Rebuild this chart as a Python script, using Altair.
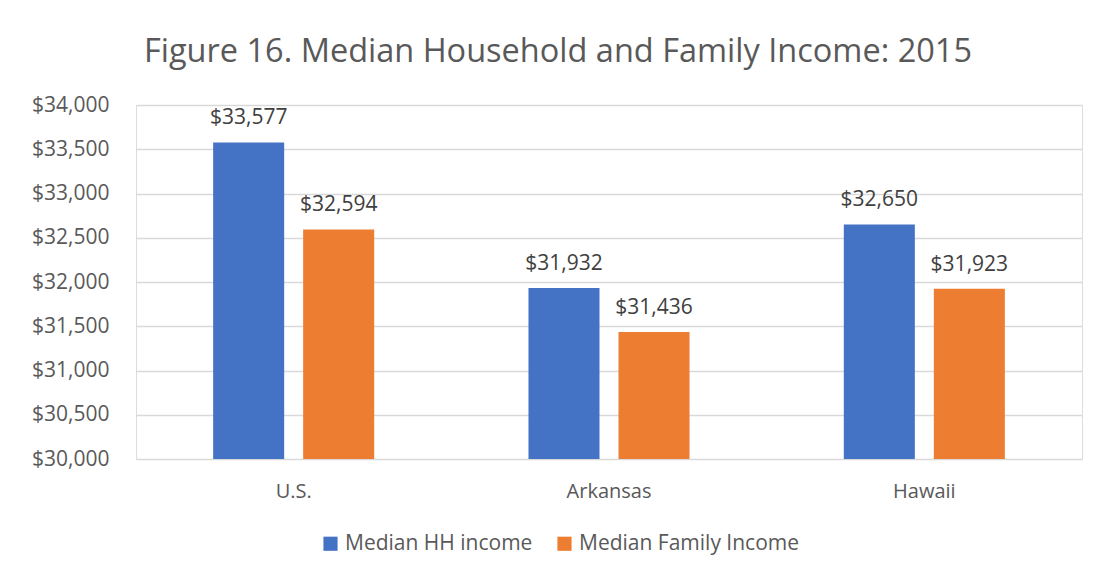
import altair as alt
import pandas as pd

regions = ["U.S.", "Arkansas", "Hawaii"]
series = ["Median HH income", "Median Family Income"]
hh_income = [33577, 31932, 32650]
family_income = [32594, 31436, 31923]
colors = ["#4472C4", "#ED7D31"]

rows = []
for i, r in enumerate(regions):
    rows.append({"region": r, "series": series[0], "value": hh_income[i]})
    rows.append({"region": r, "series": series[1], "value": family_income[i]})
df = pd.DataFrame(rows)

FONT = "Open Sans"
GRAY = "#595959"

x = alt.X("region:N", sort=regions, title=None,
          scale=alt.Scale(paddingInner=0, paddingOuter=0),
          axis=alt.Axis(labelAngle=0, labelFontSize=20, labelColor=GRAY, labelFont=FONT,
                        ticks=False, domain=False, labelPadding=22, grid=False))
xoff = alt.XOffset("series:N", sort=series,
                   scale=alt.Scale(paddingInner=0.211, paddingOuter=0.857))
y = alt.Y("value:Q", title=None,
          scale=alt.Scale(domain=[30000, 34000], zero=False, nice=False),
          axis=alt.Axis(values=list(range(30000, 34001, 500)), format="$,.0f",
                        labelFontSize=21, labelColor=GRAY, labelFont=FONT,
                        ticks=False, domain=False, labelPadding=27,
                        gridColor="#D9D9D9", gridWidth=1.3))
color = alt.Color("series:N", sort=series,
                  scale=alt.Scale(domain=series, range=colors),
                  legend=alt.Legend(title=None, orient="none", direction="horizontal",
                                    legendX=184, legendY=428,
                                    symbolType="square", symbolSize=200, symbolStrokeWidth=0,
                                    labelFontSize=21, labelColor=GRAY, labelFont=FONT,
                                    labelLimit=0, columnPadding=21, symbolOffset=0,
                                    labelOffset=4))

bars = alt.Chart(df).mark_bar().encode(
    x=x, xOffset=xoff, y=y, y2=alt.datum(30000), color=color
)
labels = alt.Chart(df).mark_text(baseline="bottom", dy=-14, fontSize=21, font=FONT,
                                 color="#404040").encode(
    x=alt.X("region:N", sort=regions), xOffset=alt.XOffset("series:N", sort=series),
    y="value:Q", text=alt.Text("value:Q", format="$,.0f")
)

chart = alt.layer(bars, labels).properties(
    width=946, height=354,
    title=alt.TitleParams("Figure 16. Median Household and Family Income: 2015",
                          fontSize=32.5, font=FONT, fontWeight="normal", color=GRAY,
                          anchor="middle", offset=26, dx=-51),
    autosize=alt.AutoSizeParams(type="none"),
    padding={"left": 128, "top": 97, "right": 8, "bottom": 108},
).configure_view(stroke=None).configure(background="white")

chart.save("out.html", embed_options={"renderer": "svg", "actions": False})
